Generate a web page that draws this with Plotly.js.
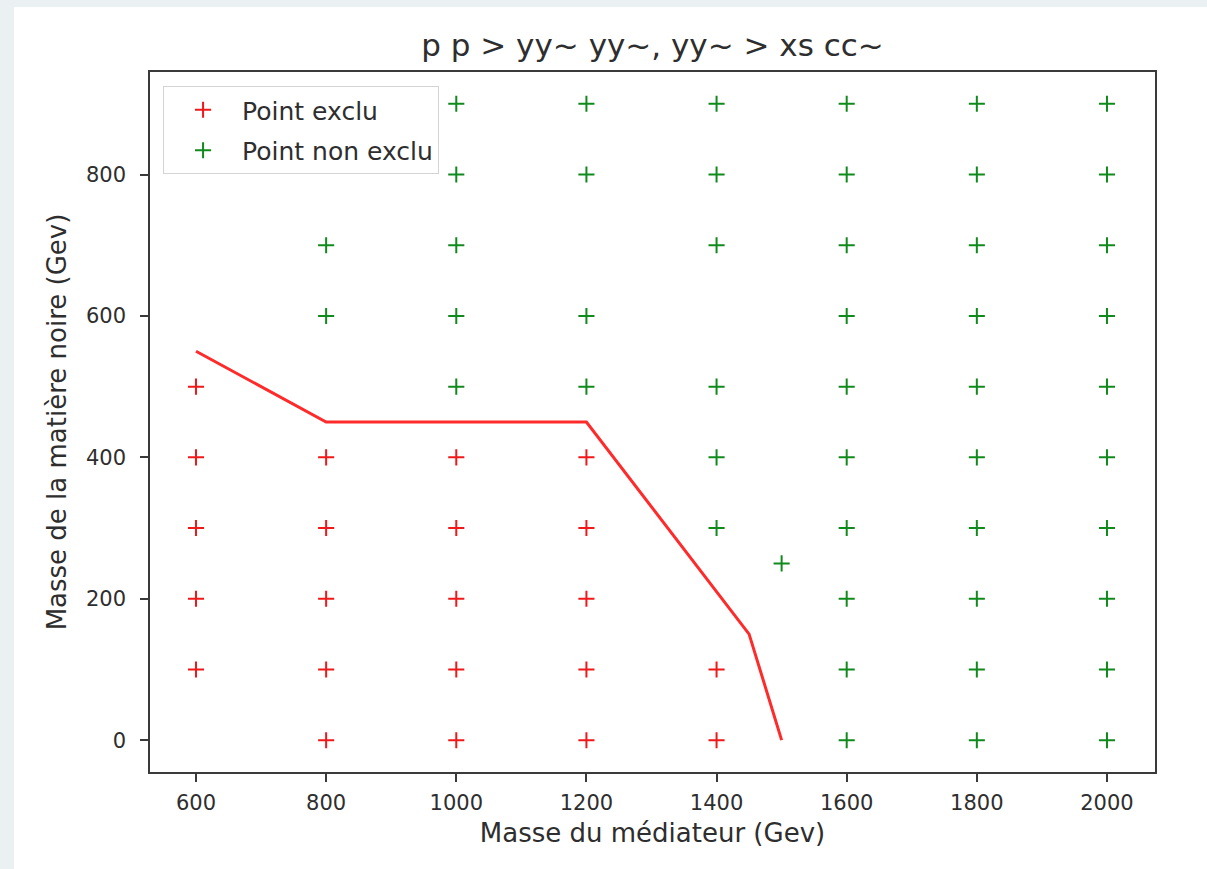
<!DOCTYPE html>
<html>
<head>
<meta charset="utf-8">
<script src="https://cdn.plot.ly/plotly-3.0.1.min.js"></script>
<style>
  html, body { margin: 0; padding: 0; background: #ebf0f2; width: 1207px; height: 869px; overflow: hidden; }
  #chart { position: absolute; left: 14px; top: 7px; width: 1193px; height: 862px; background: #ffffff; }
</style>
</head>
<body>
<div id="chart"></div>
<script>
// Points excluded by the analysis (mediator mass, dark matter mass), in GeV
const excluX = [600, 600, 600, 600, 600,
                800, 800, 800, 800, 800,
                1000, 1000, 1000, 1000, 1000,
                1200, 1200, 1200, 1200, 1200,
                1400, 1400];
const excluY = [100, 200, 300, 400, 500,
                0, 100, 200, 300, 400,
                0, 100, 200, 300, 400,
                0, 100, 200, 300, 400,
                0, 100];

// Points not excluded
const nonExcluX = [800, 800,
                   1000, 1000, 1000, 1000, 1000,
                   1200, 1200, 1200, 1200,
                   1400, 1400, 1400, 1400, 1400, 1400,
                   1500,
                   1600, 1600, 1600, 1600, 1600, 1600, 1600, 1600, 1600, 1600,
                   1800, 1800, 1800, 1800, 1800, 1800, 1800, 1800, 1800, 1800,
                   2000, 2000, 2000, 2000, 2000, 2000, 2000, 2000, 2000, 2000];
const nonExcluY = [600, 700,
                   500, 600, 700, 800, 900,
                   500, 600, 800, 900,
                   300, 400, 500, 700, 800, 900,
                   250,
                   0, 100, 200, 300, 400, 500, 600, 700, 800, 900,
                   0, 100, 200, 300, 400, 500, 600, 700, 800, 900,
                   0, 100, 200, 300, 400, 500, 600, 700, 800, 900];

// Exclusion contour
const limitX = [600, 800, 1200, 1450, 1500];
const limitY = [550, 450, 450, 150, 0];

const xTicks = [600, 800, 1000, 1200, 1400, 1600, 1800, 2000];
const yTicks = [0, 200, 400, 600, 800];

const font = 'DejaVu Sans, sans-serif';
const textColor = '#2e2e2e';

const traces = [
  {
    x: excluX, y: excluY, type: 'scatter', mode: 'markers', name: 'Point exclu',
    legendgroup: 'a',
    marker: { symbol: 'cross-thin-open', size: 11.5, line: { color: '#f01818', width: 2 }, color: '#f01818' },
    hoverinfo: 'x+y'
  },
  {
    x: nonExcluX, y: nonExcluY, type: 'scatter', mode: 'markers', name: 'Point non exclu',
    legendgroup: 'b',
    marker: { symbol: 'cross-thin-open', size: 11.5, line: { color: '#108a1c', width: 2 }, color: '#108a1c' },
    hoverinfo: 'x+y'
  },
  {
    x: limitX, y: limitY, type: 'scatter', mode: 'lines', showlegend: false,
    line: { color: '#ff2a2a', width: 3 },
    hoverinfo: 'skip'
  }
];

const axisCommon = {
  showgrid: false, zeroline: false,
  showline: true, mirror: true, linecolor: '#3a3a3a', linewidth: 1.6,
  ticks: 'outside', ticklen: 8, tickwidth: 1.5, tickcolor: '#3a3a3a',
  tickfont: { family: font, size: 21, color: textColor }
};

const layout = {
  width: 1193, height: 862,
  margin: { l: 136, r: 52, t: 65, b: 97 },
  paper_bgcolor: '#ffffff', plot_bgcolor: '#ffffff',
  title: {
    text: 'p p > yy~ yy~, yy~ > xs cc~',
    font: { family: font, size: 31, color: textColor },
    x: 0.5, xref: 'paper', xanchor: 'center',
    y: 1 - 38 / 862, yanchor: 'middle'
  },
  xaxis: Object.assign({}, axisCommon, {
    range: [529.3, 2073.8], tickvals: xTicks, ticktext: xTicks.map(String),
    ticklabelstandoff: 3,
    title: { text: 'Masse du médiateur (Gev)', font: { family: font, size: 26, color: textColor }, standoff: 10 }
  }),
  yaxis: Object.assign({}, axisCommon, {
    range: [-45, 945], tickvals: yTicks, ticktext: yTicks.map(String),
    ticklabelstandoff: 10,
    title: { text: 'Masse de la matière noire (Gev)', font: { family: font, size: 26, color: textColor }, standoff: 12 }
  }),
  showlegend: true,
  legend: {
    x: 0.013, y: 0.98, xanchor: 'left', yanchor: 'top',
    bgcolor: '#ffffff', bordercolor: '#d4d4d4', borderwidth: 1,
    font: { family: font, size: 25, color: textColor },
    itemwidth: 68, entrywidth: 210,
    traceorder: 'grouped', tracegroupgap: 5
  }
};

Plotly.newPlot('chart', traces, layout, { displayModeBar: false, responsive: false });
</script>
</body>
</html>
